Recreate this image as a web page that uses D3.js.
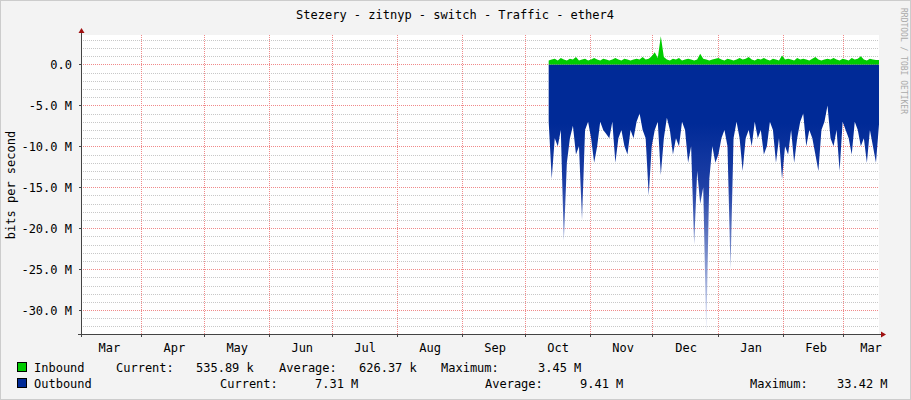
<!DOCTYPE html>
<html><head><meta charset="utf-8">
<script src="https://cdn.jsdelivr.net/npm/d3@7"></script>
<style>body{margin:0;background:#fff}</style></head>
<body><svg id="c" width="911" height="400"></svg>
<script>
const title = "Stezery - zitnyp - switch - Traffic - ether4";
const yTicks = [0, -5e6, -10e6, -15e6, -20e6, -25e6, -30e6];
const yTickLabels = ["0.0", "-5.0 M", "-10.0 M", "-15.0 M", "-20.0 M", "-25.0 M", "-30.0 M"];
const monthLabels = ["Mar","Apr","May","Jun","Jul","Aug","Sep","Oct","Nov","Dec","Jan","Feb","Mar"];
// Outbound, in M (negative), evenly spaced from mid Oct to mid Mar
const outbound = [-7,-14,-9,-10,-8,-21.5,-12,-9,-7.5,-11,-10,-19,-8,-7,-9,-12,-10,-7,-8,-8.5,-9,-7,-12,-9,-8,-10,-11,-8,-9,-7,-6,-8,-9,-16,-10,-8,-7,-13.5,-9,-6.5,-8,-11,-9,-10,-7,-8,-12,-10,-22,-13,-17,-15,-33,-14,-10,-12,-11,-9,-8,-10,-25,-9,-7,-9,-13,-9,-8,-10,-7,-9,-8,-11,-10,-7,-8,-12,-9,-14,-10,-11,-8,-12,-9,-7,-6,-10,-8,-9,-11,-13,-8,-7,-5,-9,-10,-8,-13,-7,-8,-9,-11,-7,-8,-10,-9,-12,-8,-10,-12,-7.3];
// Inbound, in M
const inbound = [0.5,0.6,0.7,0.5,0.8,0.6,0.5,0.7,0.6,0.9,0.5,0.6,0.7,0.5,0.6,0.8,0.6,0.5,0.7,0.6,0.5,0.6,0.8,0.6,0.5,0.7,0.6,0.5,0.6,0.7,0.6,0.9,0.6,0.7,1.0,1.5,0.8,3.45,0.9,0.6,0.5,0.7,0.6,0.8,0.5,0.6,0.7,0.6,0.5,0.6,1.3,0.7,0.6,0.5,0.6,0.7,0.8,0.6,0.5,0.7,0.6,0.5,0.6,0.8,0.6,0.7,0.9,0.6,0.5,0.7,0.6,0.8,0.6,0.5,0.7,0.6,0.5,1.1,0.6,0.7,0.6,0.5,0.8,0.6,0.7,0.6,0.5,0.7,0.9,0.6,0.5,0.6,0.7,0.6,0.8,0.6,0.5,0.7,0.6,0.5,0.8,0.6,0.7,1.0,0.6,0.5,0.7,0.6,0.55,0.54];
const legendRows = [
  {name:"Inbound", color:"#00CC00", items:[["Current:",116],["535.89 k",196],["Average:",279],["626.37 k",359],["Maximum:",441],["3.45 M",538]]},
  {name:"Outbound", color:"#002A97", items:[["Current:",220],["7.31 M",315],["Average:",485],["9.41 M",580],["Maximum:",750],["33.42 M",837]]}
];

const svg = d3.select("#c");
const F = "DejaVu Sans Mono, monospace";
const L = 81, R = 879, T = 35, B = 334;
svg.append("rect").attr("width",911).attr("height",400).attr("fill","#F3F3F3");
svg.append("rect").attr("x",0.5).attr("y",0.5).attr("width",910).attr("height",399).attr("fill","none").attr("stroke","#CCCCCC");
svg.append("rect").attr("x",L).attr("y",T).attr("width",R-L).attr("height",B-T).attr("fill","#fff");

const x = d3.scaleTime().domain([new Date(2015,2,3,12), new Date(2016,2,18)]).range([L,R]);
const y = d3.scaleLinear().domain([-32.8e6, 3.6e6]).range([B-1, T]);

const g = svg.append("g");
for (let v = -32e6; v <= 3e6; v += 1e6) {
  if (v % 5e6 === 0) continue;
  g.append("line").attr("x1",L).attr("x2",R).attr("y1",Math.round(y(v))+0.5).attr("y2",Math.round(y(v))+0.5)
   .attr("stroke","#C8C8C8").attr("stroke-dasharray","1,1");
}
yTicks.forEach(v => g.append("line").attr("x1",L).attr("x2",R).attr("y1",Math.round(y(v))+0.5).attr("y2",Math.round(y(v))+0.5)
  .attr("stroke","#F08A8A").attr("stroke-dasharray","1,1"));
const months = x.ticks(d3.timeMonth.every(1)).filter(d => x(d) > L+2 && x(d) < R-2);
months.forEach(d => g.append("line").attr("x1",Math.round(x(d))+0.5).attr("x2",Math.round(x(d))+0.5).attr("y1",T).attr("y2",B)
  .attr("stroke","#F08A8A").attr("stroke-dasharray","1,1"));

const start = new Date(2015,9,12,12).getTime(), end = new Date(2016,2,18).getTime();
const step = (end-start)/(outbound.length-1);
const outData = outbound.map((v,i)=>({t:new Date(start+i*step), v:v*1e6}));
const stepI = (end-start)/(inbound.length-1);
const inData = inbound.map((v,i)=>({t:new Date(start+i*stepI), v:v*1e6}));

const defs = svg.append("defs");
const grad = defs.append("linearGradient").attr("id","fade").attr("gradientUnits","userSpaceOnUse")
  .attr("x1",0).attr("x2",0).attr("y1",y(0)).attr("y2",y(-33e6));
grad.append("stop").attr("offset","0.22").attr("stop-color","#002A97");
grad.append("stop").attr("offset","0.45").attr("stop-color","#1E3FA5");
grad.append("stop").attr("offset","1").attr("stop-color","#E6EAF7");

svg.append("path").datum(outData).attr("fill","url(#fade)")
  .attr("d", d3.area().x(d=>x(d.t)).y0(y(0)).y1(d=>y(d.v)));
svg.append("path").datum(inData).attr("fill","#00CC00")
  .attr("d", d3.area().x(d=>x(d.t)).y0(y(0)).y1(d=>y(d.v)));

svg.append("line").attr("x1",L-3).attr("x2",R+2).attr("y1",B+0.5).attr("y2",B+0.5).attr("stroke","#444");
svg.append("line").attr("x1",L+0.5).attr("x2",L+0.5).attr("y1",T-4).attr("y2",B+3).attr("stroke","#444");
svg.append("path").attr("d",`M${R+2},${B-2.5} L${R+7},${B+0.5} L${R+2},${B+3.5}Z`).attr("fill","#A01010");
svg.append("path").attr("d",`M${L-2.5},${T-2} L${L+0.5},${T-7} L${L+3.5},${T-2}Z`).attr("fill","#A01010");
months.forEach(d => svg.append("line").attr("x1",Math.round(x(d))+0.5).attr("x2",Math.round(x(d))+0.5).attr("y1",B).attr("y2",B+3).attr("stroke","#444"));
yTicks.forEach(v => svg.append("line").attr("x1",L-2).attr("x2",L).attr("y1",Math.round(y(v))+0.5).attr("y2",Math.round(y(v))+0.5).attr("stroke","#444"));

const midMonths = d3.timeMonth.range(new Date(2015,2,1), new Date(2016,3,1)).map(d=>new Date(d.getFullYear(), d.getMonth(), 17));
midMonths.forEach((d,i) => {
  let px = x(d); if (i === monthLabels.length-1) px = Math.min(px, 871);
  svg.append("text").attr("x",px).attr("y",352).attr("text-anchor","middle")
    .attr("font-family",F).attr("font-size",12).attr("fill","#000").text(monthLabels[i]);
});
yTicks.forEach((v,i) => svg.append("text").attr("x",72).attr("y",y(v)+4.5).attr("text-anchor","end")
  .attr("font-family",F).attr("font-size",12).text(yTickLabels[i]));

svg.append("text").attr("x",455).attr("y",19).attr("text-anchor","middle").attr("font-family",F).attr("font-size",12).text(title);
svg.append("text").attr("transform","translate(15,185) rotate(-90)").attr("text-anchor","middle").attr("font-family",F).attr("font-size",12).text("bits per second");
svg.append("text").attr("transform","translate(901,8) rotate(90)").attr("font-family",F).attr("font-size",8).attr("fill","#AAAAAA").text("RRDTOOL / TOBI OETIKER");

legendRows.forEach((r,i) => {
  const by = 372 + i*16;
  svg.append("rect").attr("x",17.5).attr("y",by-9.5).attr("width",9).attr("height",9).attr("fill",r.color).attr("stroke","#000");
  svg.append("text").attr("x",34).attr("y",by).attr("font-family",F).attr("font-size",12).text(r.name);
  r.items.forEach(([t,px]) => svg.append("text").attr("x",px).attr("y",by).attr("font-family",F).attr("font-size",12).text(t));
});
</script></body></html>
